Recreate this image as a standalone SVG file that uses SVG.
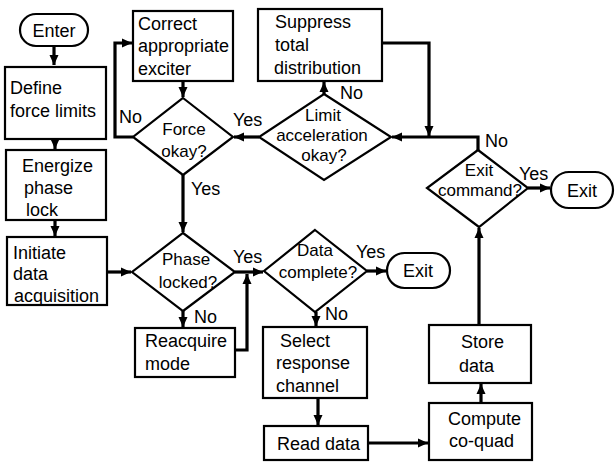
<svg xmlns="http://www.w3.org/2000/svg" width="616" height="464" viewBox="0 0 616 464">
<style>
.n{fill:#fff;stroke:#000;stroke-width:2.2}
.t{font-family:"Liberation Sans",Arial,sans-serif;font-size:18px;fill:#000}
.d{font-size:17px}
.c{text-anchor:middle}
.e{fill:none;stroke:#000;stroke-width:3.2}
</style>
<defs>
<marker id="a" markerUnits="userSpaceOnUse" markerWidth="12" markerHeight="10" refX="10" refY="5" orient="auto">
<path d="M0,0.5 L10,5 L0,9.5 Z" fill="#000"/>
</marker>
</defs>
<rect width="616" height="464" fill="#fff"/>

<g id="connectors">
<path class="e" d="M54,46 V65" marker-end="url(#a)"/>
<path class="e" d="M55,139 V149" marker-end="url(#a)"/>
<path class="e" d="M55,220 V236" marker-end="url(#a)"/>
<path class="e" d="M107,272 H131" marker-end="url(#a)"/>
<path class="e" d="M183,81 V97" marker-end="url(#a)"/>
<path class="e" d="M133,137 H115 V43 H132" marker-end="url(#a)"/>
<path class="e" d="M183,175 V232" marker-end="url(#a)"/>
<path class="e" d="M235,272 H263" marker-end="url(#a)"/>
<path class="e" d="M235,350 H247 V274" marker-end="url(#a)"/>
<path class="e" d="M183,311 V327" marker-end="url(#a)"/>
<path class="e" d="M259,137 H234" marker-end="url(#a)"/>
<path class="e" d="M324,94 V82" marker-end="url(#a)"/>
<path class="e" d="M382,43 H429 V136" marker-end="url(#a)"/>
<path class="e" d="M478,150 V137 H392" marker-end="url(#a)"/>
<path class="e" d="M528,188 H550" marker-end="url(#a)"/>
<path class="e" d="M479,325 V228" marker-end="url(#a)"/>
<path class="e" d="M367,271 H386" marker-end="url(#a)"/>
<path class="e" d="M316,312 V326" marker-end="url(#a)"/>
<path class="e" d="M318,398 V425" marker-end="url(#a)"/>
<path class="e" d="M368,443 H428" marker-end="url(#a)"/>
<path class="e" d="M481,403 V384" marker-end="url(#a)"/>
</g>

<g id="labels">
<text class="t" x="119" y="123">No</text>
<text class="t" x="233" y="126">Yes</text>
<text class="t" x="340" y="99">No</text>
<text class="t" x="485" y="147">No</text>
<text class="t" x="519" y="180">Yes</text>
<text class="t" x="191" y="195">Yes</text>
<text class="t" x="233" y="263">Yes</text>
<text class="t" x="356" y="258">Yes</text>
<text class="t" x="194" y="323">No</text>
<text class="t" x="325" y="320">No</text>
</g>

<g id="enter">
<rect class="n" x="20" y="14" width="68" height="32" rx="16"/>
<text class="t c" x="54" y="37">Enter</text>
</g>
<g id="define">
<rect class="n" x="5" y="67" width="101" height="72"/>
<text class="t" x="10" y="94">Define</text>
<text class="t" x="10" y="117">force limits</text>
</g>
<g id="energize">
<rect class="n" x="6" y="150" width="100" height="70"/>
<text class="t" x="22" y="172">Energize</text>
<text class="t" x="24" y="194">phase</text>
<text class="t" x="26" y="216">lock</text>
</g>
<g id="initiate">
<rect class="n" x="7" y="237" width="100" height="68"/>
<text class="t" x="13" y="259">Initiate</text>
<text class="t" x="13" y="280">data</text>
<text class="t" x="14" y="302">acquisition</text>
</g>
<g id="correct">
<rect class="n" x="133" y="11" width="100" height="70"/>
<text class="t" x="138" y="30">Correct</text>
<text class="t" x="138" y="52">appropriate</text>
<text class="t" x="138" y="75">exciter</text>
</g>
<g id="suppress">
<rect class="n" x="258" y="9" width="124" height="72"/>
<text class="t" x="275" y="28">Suppress</text>
<text class="t" x="275" y="51">total</text>
<text class="t" x="274" y="74">distribution</text>
</g>
<g id="force">
<polygon class="n" points="183,98 233,137 183,175 133,137"/>
<text class="t d c" x="184" y="135">Force</text>
<text class="t d c" x="184" y="157">okay?</text>
</g>
<g id="limit">
<polygon class="n" points="324,94 391,137 324,180 259,137"/>
<text class="t d c" x="323" y="121">Limit</text>
<text class="t d c" x="322" y="141">acceleration</text>
<text class="t d c" x="324" y="161">okay?</text>
</g>
<g id="exitcmd">
<polygon class="n" points="478,150 528,188 479,227 427,188"/>
<text class="t d c" x="479" y="176">Exit</text>
<text class="t d c" x="480" y="196">command?</text>
</g>
<g id="exit1">
<rect class="n" x="551" y="172" width="62" height="36" rx="18"/>
<text class="t c" x="582" y="197">Exit</text>
</g>
<g id="phase">
<polygon class="n" points="183,233 235,272 183,311 132,272"/>
<text class="t d c" x="186" y="265">Phase</text>
<text class="t d c" x="188" y="288">locked?</text>
</g>
<g id="datacomplete">
<polygon class="n" points="315,230 367,271 315,312 264,271"/>
<text class="t d c" x="315" y="256">Data</text>
<text class="t d c" x="318" y="278">complete?</text>
</g>
<g id="exit2">
<rect class="n" x="387" y="253" width="63" height="35" rx="17.5"/>
<text class="t c" x="418" y="277">Exit</text>
</g>
<g id="reacquire">
<rect class="n" x="135" y="328" width="100" height="49"/>
<text class="t" x="145" y="347">Reacquire</text>
<text class="t" x="145" y="370">mode</text>
</g>
<g id="select">
<rect class="n" x="263" y="327" width="104" height="71"/>
<text class="t" x="280" y="347">Select</text>
<text class="t" x="276" y="369">response</text>
<text class="t" x="276" y="392">channel</text>
</g>
<g id="read">
<rect class="n" x="264" y="426" width="104" height="34"/>
<text class="t" x="277" y="450">Read data</text>
</g>
<g id="compute">
<rect class="n" x="429" y="403" width="103" height="57"/>
<text class="t" x="448" y="425">Compute</text>
<text class="t" x="449" y="447">co-quad</text>
</g>
<g id="store">
<rect class="n" x="429" y="325" width="102" height="58"/>
<text class="t" x="461" y="348">Store</text>
<text class="t" x="459" y="372">data</text>
</g>
</svg>
